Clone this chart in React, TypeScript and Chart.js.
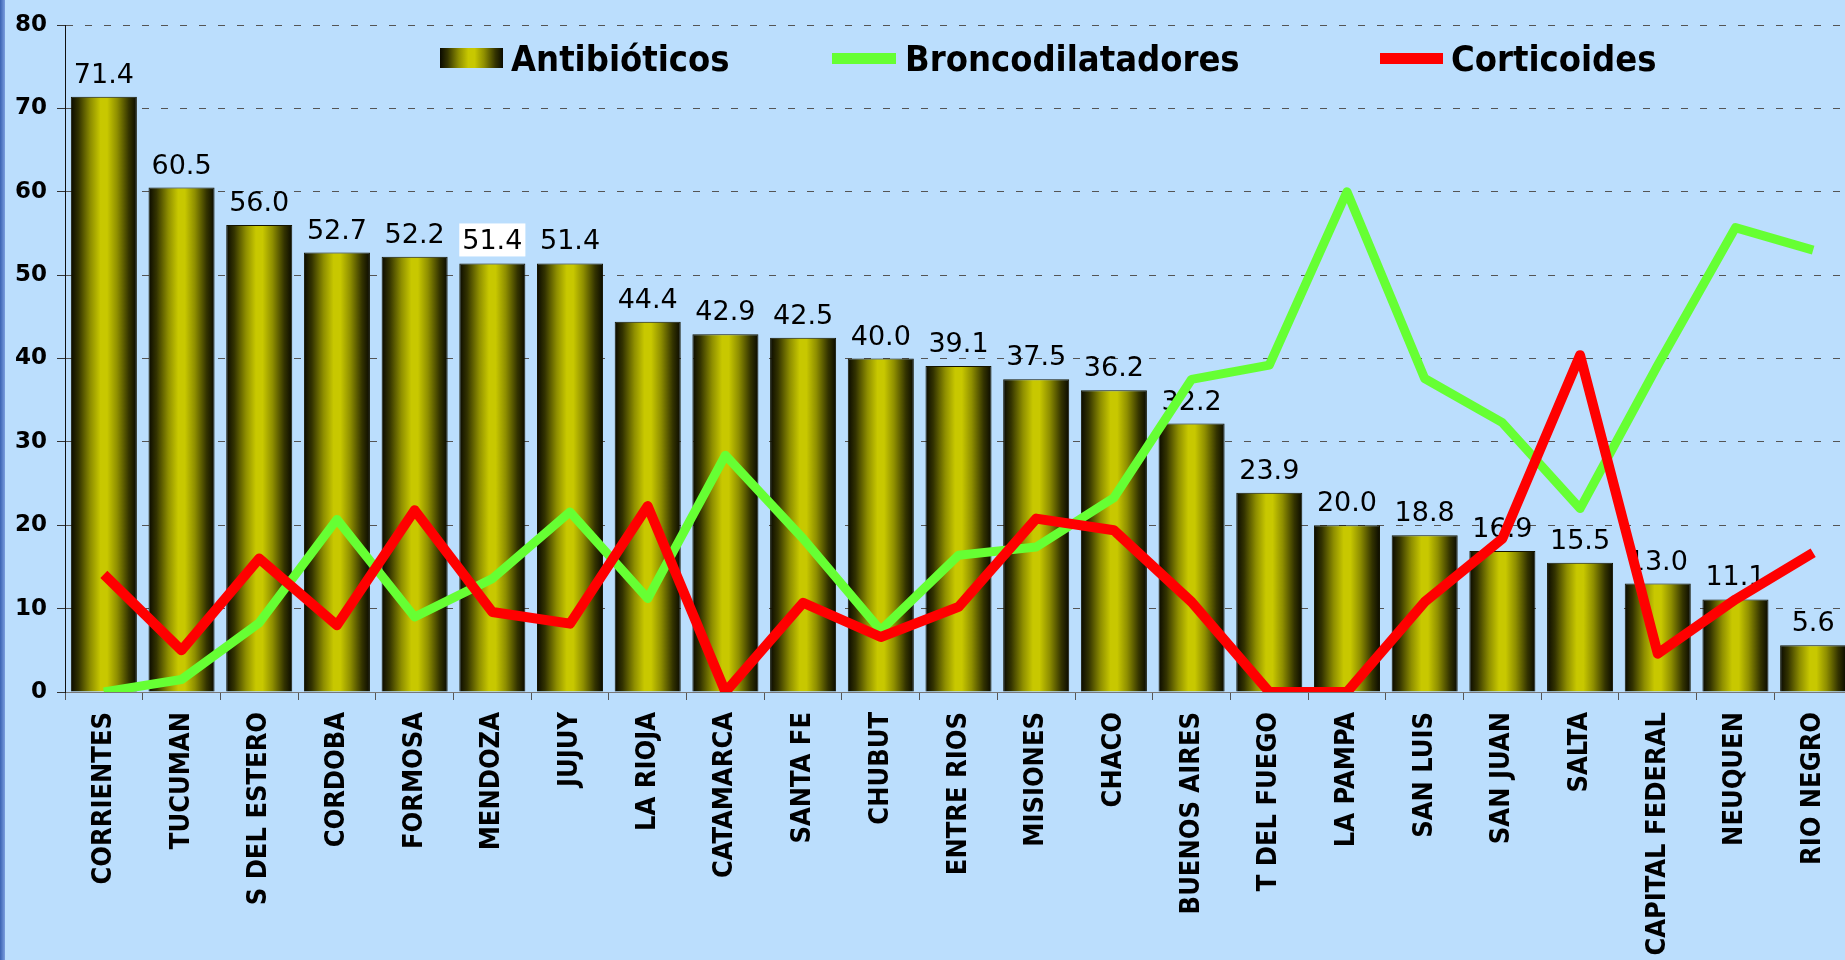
import React, { useEffect, useRef } from "react";
import { Chart, registerables } from "chart.js";

Chart.register(...registerables);

const categories = [
  "CORRIENTES", "TUCUMAN", "S DEL ESTERO", "CORDOBA", "FORMOSA", "MENDOZA",
  "JUJUY", "LA RIOJA", "CATAMARCA", "SANTA FE", "CHUBUT", "ENTRE RIOS",
  "MISIONES", "CHACO", "BUENOS AIRES", "T DEL FUEGO", "LA PAMPA", "SAN LUIS",
  "SAN JUAN", "SALTA", "CAPITAL FEDERAL", "NEUQUEN", "RIO NEGRO",
];

const antibioticos = [
  71.4, 60.5, 56.0, 52.7, 52.2, 51.4, 51.4, 44.4, 42.9, 42.5, 40.0, 39.1,
  37.5, 36.2, 32.2, 23.9, 20.0, 18.8, 16.9, 15.5, 13.0, 11.1, 5.6,
];

const broncodilatadores = [
  0.0, 1.5, 8.3, 20.7, 9.0, 13.6, 21.6, 11.2, 28.4, 18.4, 7.4, 16.4,
  17.4, 23.3, 37.5, 39.2, 60.0, 37.6, 32.3, 22.0, 39.2, 55.7, 53.0,
];

const corticoides = [
  14.1, 5.0, 16.0, 8.0, 21.8, 9.6, 8.2, 22.3, 0.0, 10.7, 6.6, 10.2,
  20.8, 19.4, 10.8, 0.0, 0.0, 10.8, 18.4, 40.4, 4.6, 11.1, 16.7,
];

const yMin = 0;
const yMax = 80;
const yStep = 10;

const seriesNames = ["Antibióticos", "Broncodilatadores", "Corticoides"];
const highlightedValueLabels = [5];

const BG = "#BBDEFD";
const GREEN = "#66FF33";
const RED = "#FF0000";

function barGradient(ctx: CanvasRenderingContext2D, x0: number, x1: number) {
  const g = ctx.createLinearGradient(x0, 0, x1, 0);
  g.addColorStop(0, "#0a0a00");
  g.addColorStop(0.12, "#333300");
  g.addColorStop(0.3, "#8f8f00");
  g.addColorStop(0.45, "#c8c800");
  g.addColorStop(0.55, "#c8c800");
  g.addColorStop(0.7, "#8f8f00");
  g.addColorStop(0.88, "#333300");
  g.addColorStop(1, "#0a0a00");
  return g;
}

export default function App() {
  const ref = useRef<HTMLCanvasElement>(null);

  useEffect(() => {
    const canvas = ref.current!;
    const n = categories.length;
    const barPct = 0.85;

    const bgPlugin = {
      id: "bgFill",
      beforeDraw(chart: any) {
        const c = chart.ctx;
        c.save();
        c.fillStyle = BG;
        c.fillRect(0, 0, chart.width, chart.height);
        c.restore();
      },
    };

    const valueLabels = {
      id: "valueLabels",
      afterDatasetDraw(chart: any, args: any) {
        if (args.index !== 0) return;
        const c = chart.ctx;
        const meta = chart.getDatasetMeta(0);
        c.save();
        c.font = '27px "DejaVu Sans"';
        c.textAlign = "center";
        c.textBaseline = "alphabetic";
        meta.data.forEach((el: any, i: number) => {
          const txt = antibioticos[i].toFixed(1);
          const by = el.y - 14;
          if (highlightedValueLabels.includes(i)) {
            const w = c.measureText(txt).width;
            c.fillStyle = "#FFFFFF";
            c.fillRect(el.x - w / 2 - 3, by - 26, w + 6, 33);
          }
          c.fillStyle = "#000000";
          c.fillText(txt, el.x, by);
        });
        c.restore();
      },
    };

    const legendPlugin = {
      id: "customLegend",
      afterDraw(chart: any) {
        const c = chart.ctx;
        c.save();
        c.font = 'bold 36px "DejaVu Sans Condensed", "DejaVu Sans"';
        c.textAlign = "left";
        c.textBaseline = "alphabetic";
        const cy = 58;
        // bar swatch
        c.fillStyle = barGradient(c, 440, 503);
        c.fillRect(440, cy - 10, 63, 20);
        c.fillStyle = "#000";
        c.fillText(seriesNames[0], 511, cy + 13);
        // green line swatch
        c.fillStyle = GREEN;
        c.fillRect(832, cy - 5, 64, 11);
        c.fillStyle = "#000";
        c.fillText(seriesNames[1], 905, cy + 13);
        // red line swatch
        c.fillStyle = RED;
        c.fillRect(1380, cy - 5, 63, 11);
        c.fillStyle = "#000";
        c.fillText(seriesNames[2], 1451, cy + 13);
        c.restore();
      },
    };

    const chart = new Chart(canvas, {
      type: "bar",
      data: {
        labels: categories,
        datasets: [
          {
            type: "bar",
            label: seriesNames[0],
            data: antibioticos,
            order: 3,
            categoryPercentage: 1,
            barPercentage: barPct,
            borderColor: "#141400",
            borderWidth: 1,
            backgroundColor: (ctx: any) => {
              const ch = ctx.chart;
              const ca = ch.chartArea;
              if (!ca || ctx.dataIndex === undefined) return "#c8c800";
              const cx = ch.scales.x.getPixelForValue(ctx.dataIndex);
              const w = ((ca.right - ca.left) / n) * barPct;
              return barGradient(ch.ctx, cx - w / 2, cx + w / 2);
            },
          } as any,
          {
            type: "line",
            label: seriesNames[1],
            data: broncodilatadores,
            order: 2,
            borderColor: GREEN,
            borderWidth: 9,
            pointRadius: 0,
            tension: 0,
            borderJoinStyle: "round",
            borderCapStyle: "butt",
          } as any,
          {
            type: "line",
            label: seriesNames[2],
            data: corticoides,
            order: 1,
            borderColor: RED,
            borderWidth: 10,
            pointRadius: 0,
            tension: 0,
            borderJoinStyle: "round",
            borderCapStyle: "butt",
          } as any,
        ],
      },
      options: {
        responsive: false,
        animation: false,
        devicePixelRatio: 1,
        layout: { padding: { top: 25, right: 8, left: 0, bottom: 0 } },
        plugins: {
          legend: { display: false },
          tooltip: { enabled: false },
        },
        scales: {
          x: {
            offset: true,
            grid: {
              display: true,
              drawOnChartArea: false,
              drawTicks: true,
              tickLength: 8,
              color: "#555",
              offset: true,
            },
            border: { display: true, color: "#777", width: 1 },
            ticks: {
              autoSkip: false,
              maxRotation: 90,
              minRotation: 90,
              padding: 12,
              color: "#000",
              font: { family: '"DejaVu Sans Condensed", "DejaVu Sans"', weight: "bold", size: 27 },
            },
            afterFit: (s: any) => {
              s.height = 268;
              s.paddingLeft = 0;
              s.paddingRight = 0;
            },
          },
          y: {
            min: yMin,
            max: yMax,
            ticks: {
              stepSize: yStep,
              padding: 10,
              color: "#000",
              font: { family: '"DejaVu Sans"', weight: "bold", size: 23 },
            },
            grid: {
              color: "#555",
              lineWidth: 1,
              tickLength: 8,
              tickColor: "#333",
            },
            border: { display: true, color: "#111", width: 1, dash: [7, 12] },
            afterFit: (s: any) => {
              s.width = 65;
              s.paddingTop = 0;
              s.paddingBottom = 0;
            },
          },
        },
      } as any,
      plugins: [bgPlugin, valueLabels, legendPlugin],
    });

    return () => chart.destroy();
  }, []);

  return (
    <div
      style={{
        position: "fixed",
        left: 0,
        top: 0,
        width: 1845,
        height: 960,
        overflow: "hidden",
        background: BG,
      }}
    >
      <canvas
        ref={ref}
        width={1860}
        height={960}
        style={{ position: "absolute", left: 0, top: 0, width: 1860, height: 960 }}
      />
      <div
        style={{
          position: "absolute",
          left: 0,
          top: 0,
          width: 5,
          height: 960,
          background: "linear-gradient(to right, #3a62b2, #7a9ede)",
        }}
      />
    </div>
  );
}
